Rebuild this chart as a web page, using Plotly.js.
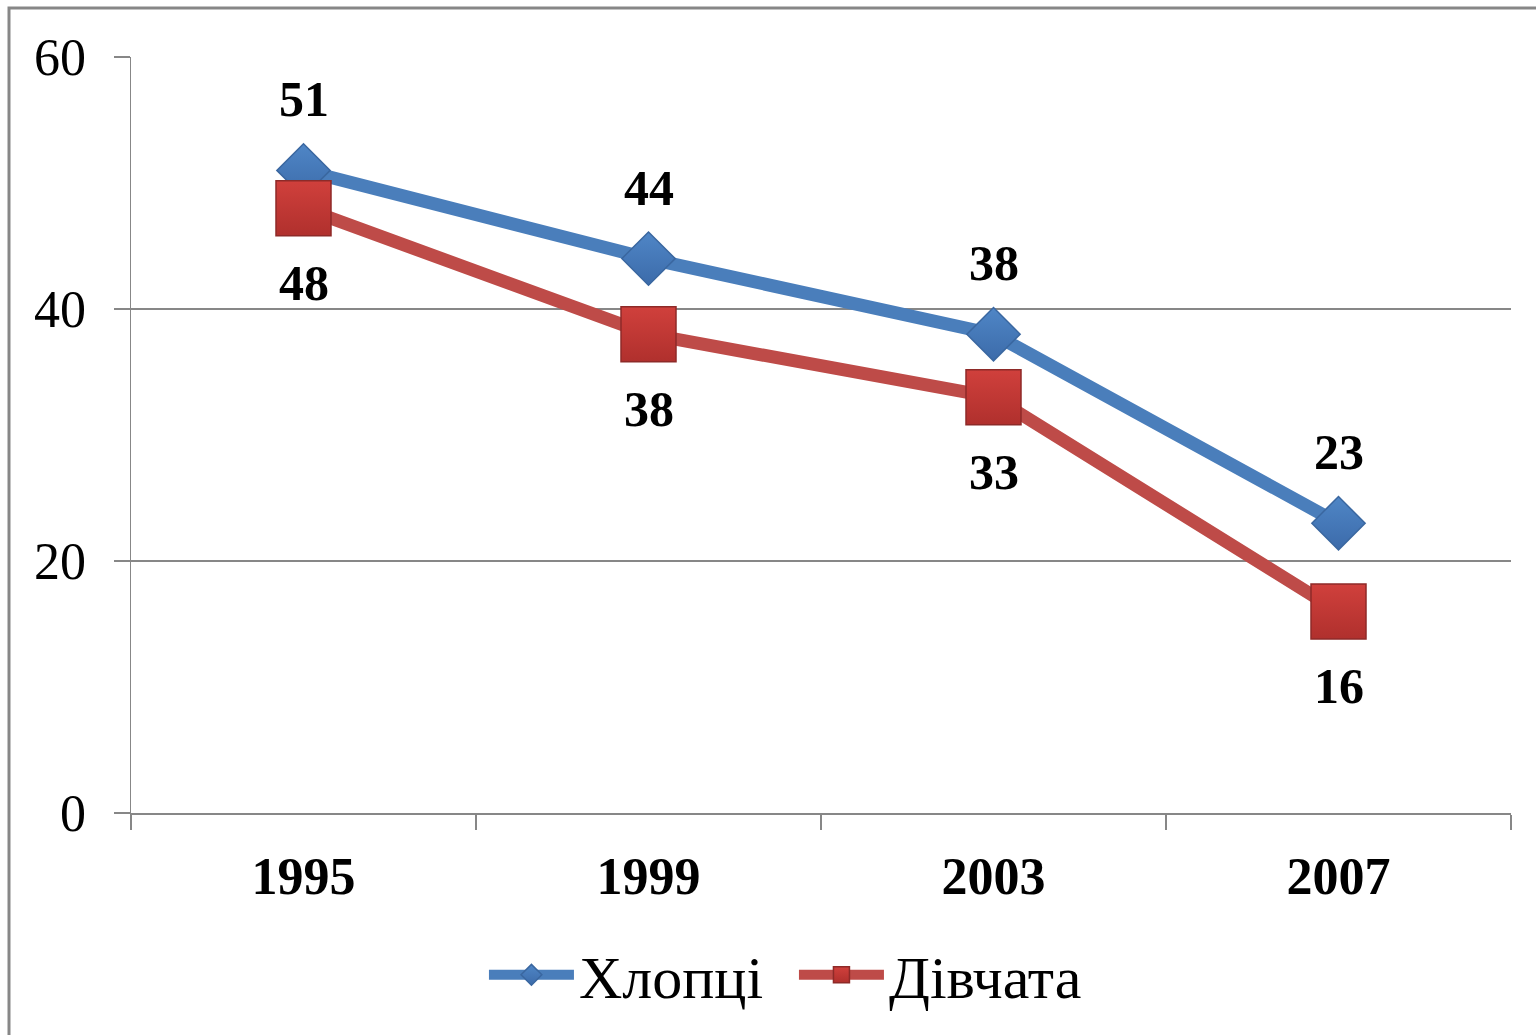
<!DOCTYPE html>
<html>
<head>
<meta charset="utf-8">
<script src="https://cdn.plot.ly/plotly-3.0.1.min.js"></script>
<style>
  html, body { margin: 0; padding: 0; background: #fff; }
  #chart { width: 1536px; height: 1035px; }
</style>
</head>
<body>
<div id="chart"></div>
<script>
const years = ['1995', '1999', '2003', '2007'];
const boys = [51, 44, 38, 23];
const girls = [48, 38, 33, 16];
const seriesNames = ['Хлопці', 'Дівчата'];
const yTicks = [0, 20, 40, 60];

const FONT = 'Liberation Serif, Times New Roman, serif';
const GRAY = '#878787';

const traces = [
  {
    x: years, y: boys, name: seriesNames[0], type: 'scatter', mode: 'lines+markers',
    line: { color: '#4A7EBB', width: 13 },
    marker: { symbol: 'diamond', size: 41, color: '#4F86C6',
      line: { color: '#3A67A0', width: 1.5 },
      gradient: { type: 'vertical', color: '#3C6BAA' } },
    cliponaxis: false
  },
  {
    x: years, y: girls, name: seriesNames[1], type: 'scatter', mode: 'lines+markers',
    line: { color: '#BE4B48', width: 13 },
    marker: { symbol: 'square', size: 55, color: '#D0403C',
      line: { color: '#8E2A28', width: 1.5 },
      gradient: { type: 'vertical', color: '#B0302D' } },
    cliponaxis: false
  }
];

const annotations = [];
years.forEach((yr, i) => {
  annotations.push({ x: i, y: boys[i], xref: 'x', yref: 'y', text: '<b>' + boys[i] + '</b>',
    showarrow: false, yshift: 71, font: { family: FONT, size: 50, color: '#000' } });
  annotations.push({ x: i, y: girls[i], xref: 'x', yref: 'y', text: '<b>' + girls[i] + '</b>',
    showarrow: false, yshift: -75, font: { family: FONT, size: 50, color: '#000' } });
});

const layout = {
  width: 1536, height: 1035,
  margin: { l: 131, r: 25, t: 57, b: 222 },
  paper_bgcolor: '#fff', plot_bgcolor: '#fff',
  font: { family: FONT, color: '#000' },
  showlegend: true,
  legend: {
    orientation: 'h', x: 0.4804, xanchor: 'center', y: -0.214, yanchor: 'middle',
    font: { family: FONT, size: 60, color: '#000' }, itemwidth: 85,
    entrywidth: 210, entrywidthmode: 'pixels',
    bgcolor: 'rgba(0,0,0,0)'
  },
  xaxis: {
    type: 'category', range: [-0.5, 3.5], fixedrange: true,
    showgrid: false, zeroline: false,
    showline: true, linecolor: GRAY, linewidth: 1.5,
    ticks: 'outside', tickson: 'boundaries', ticklen: 15, tickcolor: GRAY, tickwidth: 1.5,
    tickfont: { family: FONT, size: 52, color: '#000', weight: 'bold' },
    ticklabelstandoff: 17
  },
  yaxis: {
    range: [0, 60], tickvals: yTicks, ticktext: yTicks.map(String), fixedrange: true,
    showgrid: true, gridcolor: GRAY, gridwidth: 1.5, zeroline: false,
    showline: true, linecolor: GRAY, linewidth: 1.5,
    ticks: 'outside', ticklen: 16, tickcolor: GRAY, tickwidth: 1.5,
    tickfont: { family: FONT, size: 52, color: '#000' },
    ticklabelstandoff: 17
  },
  annotations: annotations,
  shapes: [{
    type: 'rect', xref: 'paper', yref: 'paper', layer: 'below',
    x0: (9 - 131) / 1380, x1: (1545 - 131) / 1380,
    y0: (813 - 1045) / 756, y1: (813 - 8) / 756,
    line: { color: GRAY, width: 3 }, fillcolor: 'rgba(0,0,0,0)'
  }]
};

Plotly.newPlot('chart', traces, layout, { staticPlot: true, displayModeBar: false });
</script>
</body>
</html>
